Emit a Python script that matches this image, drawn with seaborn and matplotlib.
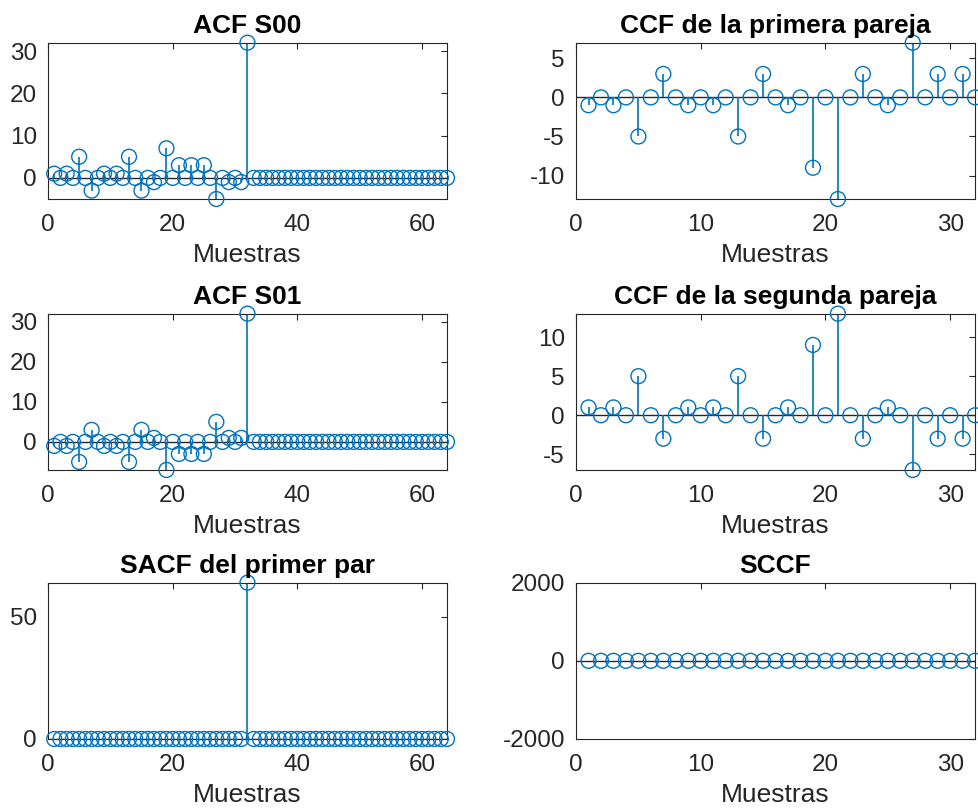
import numpy as np
import matplotlib
matplotlib.use("Agg")
import matplotlib.pyplot as plt
import seaborn as sns

# ---------------- data ----------------
acf_s00 = [1, 0, 1, 0, 5, 0, -3, 0, 1, 0, 1, 0, 5, 0, -3, 0,
           -1, 0, 7, 0, 3, 0, 3, 0, 3, 0, -5, 0, -1, 0, -1, 32,
           0, 0, 0, 0, 0, 0, 0, 0, 0, 0, 0, 0, 0, 0, 0, 0,
           0, 0, 0, 0, 0, 0, 0, 0, 0, 0, 0, 0, 0, 0, 0, 0]
acf_s01 = [-1, 0, -1, 0, -5, 0, 3, 0, -1, 0, -1, 0, -5, 0, 3, 0,
           1, 0, -7, 0, -3, 0, -3, 0, -3, 0, 5, 0, 1, 0, 1, 32,
           0, 0, 0, 0, 0, 0, 0, 0, 0, 0, 0, 0, 0, 0, 0, 0,
           0, 0, 0, 0, 0, 0, 0, 0, 0, 0, 0, 0, 0, 0, 0, 0]
sacf = [0, 0, 0, 0, 0, 0, 0, 0, 0, 0, 0, 0, 0, 0, 0, 0,
        0, 0, 0, 0, 0, 0, 0, 0, 0, 0, 0, 0, 0, 0, 0, 64,
        0, 0, 0, 0, 0, 0, 0, 0, 0, 0, 0, 0, 0, 0, 0, 0,
        0, 0, 0, 0, 0, 0, 0, 0, 0, 0, 0, 0, 0, 0, 0, 0]
ccf_1 = [-1, 0, -1, 0, -5, 0, 3, 0, -1, 0, -1, 0, -5, 0, 3, 0,
         -1, 0, -9, 0, -13, 0, 3, 0, -1, 0, 7, 0, 3, 0, 3, 0]
ccf_2 = [1, 0, 1, 0, 5, 0, -3, 0, 1, 0, 1, 0, 5, 0, -3, 0,
         1, 0, 9, 0, 13, 0, -3, 0, 1, 0, -7, 0, -3, 0, -3, 0]
sccf = [0, 0, 0, 0, 0, 0, 0, 0, 0, 0, 0, 0, 0, 0, 0, 0,
        0, 0, 0, 0, 0, 0, 0, 0, 0, 0, 0, 0, 0, 0, 0, 0]

titles = ["ACF S00", "CCF de la primera pareja", "ACF S01",
          "CCF de la segunda pareja", "SACF del primer par", "SCCF"]
xlabel = "Muestras"

# ---------------- style ----------------
sns.set_theme(style="white")
plt.rcParams["font.family"] = ["Liberation Sans", "DejaVu Sans"]
plt.rcParams["axes.unicode_minus"] = False

BLUE = "#0072BD"
DARK = "#262626"

fig = plt.figure(figsize=(9.79, 8.10), dpi=100)

lefts = [0.049, 0.5884]
bottoms = [0.7543, 0.4198, 0.0877]
W, H = 0.4076, 0.193

panels = [
    (acf_s00, (0, 64), (-5, 32), [0, 20, 40, 60], [0, 10, 20, 30]),
    (ccf_1, (0, 32), (-13, 7), [0, 10, 20, 30], [-10, -5, 0, 5]),
    (acf_s01, (0, 64), (-7, 32), [0, 20, 40, 60], [0, 10, 20, 30]),
    (ccf_2, (0, 32), (-7, 13), [0, 10, 20, 30], [-5, 0, 5, 10]),
    (sacf, (0, 64), (0, 64), [0, 20, 40, 60], [0, 50]),
    (sccf, (0, 32), (-2000, 2000), [0, 10, 20, 30], [-2000, 0, 2000]),
]

for i, (vals, xl, yl, xt, yt) in enumerate(panels):
    r, c = divmod(i, 2)
    ax = fig.add_axes([lefts[c], bottoms[r], W, H])
    x = np.arange(1, len(vals) + 1)
    y = np.asarray(vals, dtype=float)
    ax.axhline(0, color=DARK, lw=1.0, zorder=1)
    ax.vlines(x, 0, y, color=BLUE, lw=1.2, zorder=2)
    sns.scatterplot(x=x, y=y, ax=ax, marker="o", s=115, color=BLUE,
                    facecolor="none", edgecolor=BLUE, linewidth=1.0,
                    zorder=3, clip_on=False, legend=False)
    ax.set_xlim(*xl)
    ax.set_ylim(*yl)
    ax.set_xticks(xt)
    ax.set_yticks(yt)
    ax.tick_params(direction="in", top=True, right=True, length=4,
                   width=0.8, labelsize=17.5, colors=DARK)
    ax.tick_params(axis="y", pad=8)
    ax.tick_params(axis="x", pad=11)
    for sp in ax.spines.values():
        sp.set_color(DARK)
        sp.set_linewidth(0.8)
        sp.set_visible(True)
    ax.set_title(titles[i], fontsize=19, fontweight="bold", color="black", pad=7)
    ax.set_xlabel(xlabel, fontsize=19, color=DARK, labelpad=5)
    ax.set_ylabel("")
    ax.grid(False)

fig.savefig("out.png", dpi=100, facecolor="white")
